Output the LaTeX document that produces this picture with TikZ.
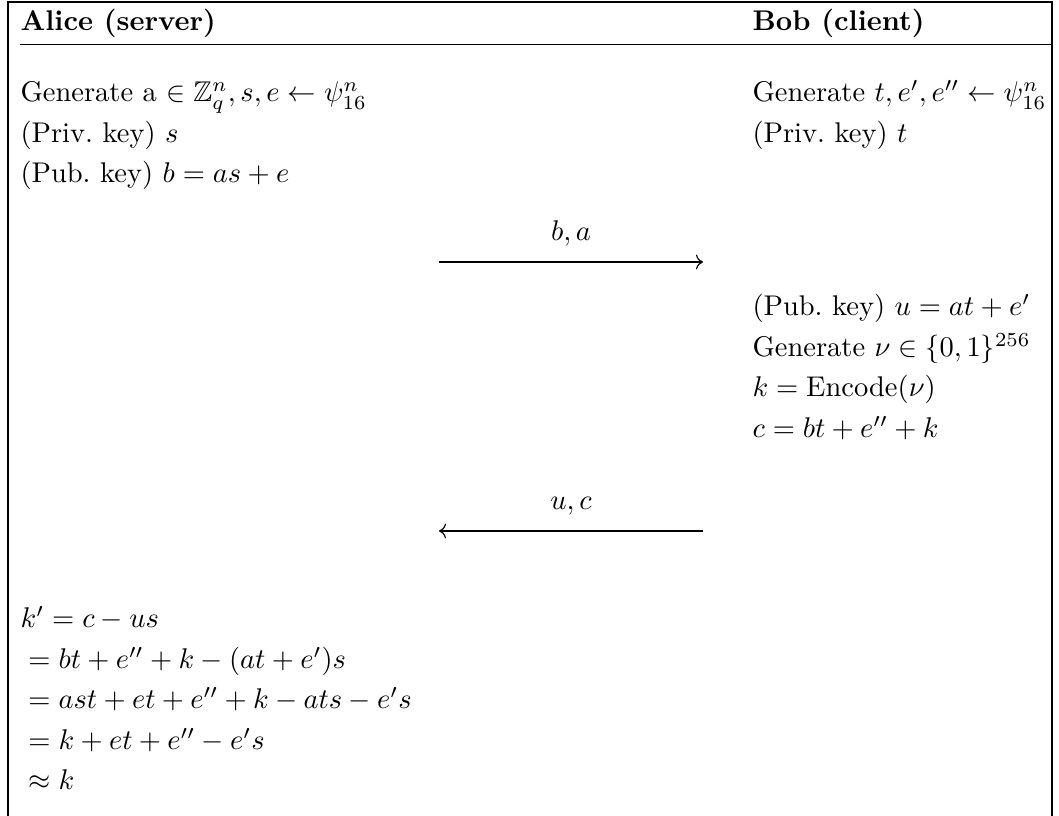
\documentclass[tikz,border=0pt]{standalone}
\usepackage{amsmath}
\usepackage{amssymb}
\usepackage{tikz}
\usetikzlibrary{arrows.meta,positioning}

\begin{document}
\begin{tikzpicture}[
  x=0.351pt,y=-0.351pt,
  txt/.style={anchor=base west,inner sep=0pt},
  hdr/.style={txt,font=\bfseries},
  lbl/.style={anchor=base,inner sep=0pt},
  rule/.style={line width=0.4pt},
  msg/.style={->,line width=0.4pt},
]
\useasboundingbox (0,0) rectangle (1059,816);
% frame and header rule
\draw[rule] (8,816) -- (8,2) -- (1052,2) -- (1052,816);
\draw[rule] (20,44.5) -- (1052,44.5);
\node[hdr] (alice) at (20,30.5) {Alice (server)};
\node[hdr] (bob) at (752,30.5) {Bob (client)};
% key generation
\node[txt] (agen) at (20,102) {Generate a $\in \mathbb{Z}_q^n, s, e \leftarrow \psi_{16}^n$};
\node[txt] (apriv) at (20,142.5) {(Priv.\ key) $s$};
\node[txt] (apub) at (20,183) {(Pub.\ key) $b = as + e$};
\node[txt] (bgen) at (752,102) {Generate $t, e', e'' \leftarrow \psi_{16}^n$};
\node[txt] (bpriv) at (752,142.5) {(Priv.\ key) $t$};
% first message
\coordinate (m1a) at (439,262);
\coordinate (m1b) at (703,262);
\draw[msg] (m1a) -- (m1b);
\node[lbl] (m1) at (571,240.5) {$b, a$};
% Bob computes
\node[txt] (bpub) at (752,316) {(Pub.\ key) $u = at + e'$};
\node[txt] (bnu) at (752,356.5) {Generate $\nu \in \{0,1\}^{256}$};
\node[txt] (benc) at (752,397) {$k = \mathrm{Encode}(\nu)$};
\node[txt] (bc) at (752,437.5) {$c = bt + e'' + k$};
% second message
\coordinate (m2a) at (703,531);
\coordinate (m2b) at (439,531);
\draw[msg] (m2a) -- (m2b);
\node[lbl] (m2) at (571,510) {$u, c$};
% Alice recovers
\node[txt] (k1) at (20,628) {$k' = c - us$};
\node[txt] (k2) at (20,668.5) {${}= bt + e'' + k - (at + e')s$};
\node[txt] (k3) at (20,709) {${}= ast + et + e'' + k - ats - e's$};
\node[txt] (k4) at (20,749.5) {${}= k + et + e'' - e's$};
\node[txt] (k5) at (20,790) {${}\approx k$};
\end{tikzpicture}
\end{document}
